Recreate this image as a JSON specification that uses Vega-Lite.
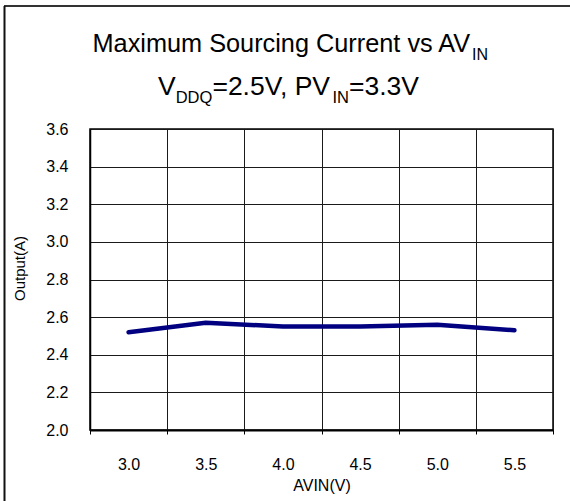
{
  "$schema": "https://vega.github.io/schema/vega-lite/v6.json",
  "width": 463,
  "height": 301,
  "padding": {"left": 90, "top": 129, "right": 17, "bottom": 71},
  "autosize": {"type": "none"},
  "background": "white",
  "config": {
    "font": "Liberation Sans",
    "view": {"stroke": "#000", "strokeWidth": 1.5},
    "axis": {
      "labelFont": "Liberation Sans",
      "titleFont": "Liberation Sans",
      "labelColor": "#000",
      "titleColor": "#000",
      "titleFontWeight": "normal",
      "gridColor": "#1a1a1a",
      "gridOpacity": 1,
      "gridWidth": 1
    }
  },
  "data": {
    "values": [
      {"avin": "3.0", "output": 2.52},
      {"avin": "3.5", "output": 2.57},
      {"avin": "4.0", "output": 2.55},
      {"avin": "4.5", "output": 2.55},
      {"avin": "5.0", "output": 2.56},
      {"avin": "5.5", "output": 2.53}
    ]
  },
  "layer": [
    {
      "mark": {"type": "line", "color": "#000080", "strokeWidth": 4.5, "strokeCap": "round", "strokeJoin": "round"},
      "encoding": {
        "x": {
          "field": "avin",
          "type": "ordinal",
          "bandPosition": 0.5,
          "scale": {"type": "band", "paddingInner": 0, "paddingOuter": 0},
          "axis": {
            "title": "AVIN(V)",
            "titleFontSize": 16,
            "titlePadding": 5,
            "labelFontSize": 16,
            "labelAngle": 0,
            "labelPadding": 22,
            "tickBand": "extent",
            "ticks": true,
            "tickSize": 4,
            "tickColor": "#000",
            "grid": true,
            "domainColor": "#000",
            "domainWidth": 2
          }
        },
        "y": {
          "field": "output",
          "type": "quantitative",
          "scale": {"domain": [2, 3.6], "nice": false, "zero": false},
          "axis": {
            "title": "Output(A)",
            "titleFontSize": 15,
            "titleAngle": -90,
            "titleBaseline": "middle",
            "titleAlign": "center",
            "titleX": -71,
            "titleY": 139,
            "values": [2.0, 2.2, 2.4, 2.6, 2.8, 3.0, 3.2, 3.4, 3.6],
            "format": ".1f",
            "labelFontSize": 16,
            "labelPadding": 22,
            "ticks": false,
            "grid": true,
            "domainColor": "#000",
            "domainWidth": 1.5
          }
        }
      }
    },
    {
      "data": {"values": [{}]},
      "mark": {"type": "rule", "color": "#333", "strokeWidth": 2},
      "encoding": {
        "x": {"value": -86},
        "x2": {"value": 480},
        "y": {"value": -123},
        "y2": {"value": -123}
      }
    },
    {
      "data": {"values": [{}]},
      "mark": {"type": "rule", "color": "#111", "strokeWidth": 2},
      "encoding": {
        "x": {"value": -85.5},
        "x2": {"value": -85.5},
        "y": {"value": -123},
        "y2": {"value": 372}
      }
    },
    {
      "data": {"values": [{}]},
      "mark": {"type": "text", "text": "Maximum Sourcing Current vs AV", "x": 2.5, "y": -77.5, "align": "left", "baseline": "alphabetic", "fontSize": 25.3, "color": "#000"},
      "encoding": {}
    },
    {
      "data": {"values": [{}]},
      "mark": {"type": "text", "text": "IN", "x": 382, "y": -69, "align": "left", "baseline": "alphabetic", "fontSize": 16, "color": "#000"},
      "encoding": {}
    },
    {
      "data": {"values": [{}]},
      "mark": {"type": "text", "text": "V", "x": 68, "y": -34, "align": "left", "baseline": "alphabetic", "fontSize": 26.5, "color": "#000"},
      "encoding": {}
    },
    {
      "data": {"values": [{}]},
      "mark": {"type": "text", "text": "DDQ", "x": 85.7, "y": -26, "align": "left", "baseline": "alphabetic", "fontSize": 16.5, "color": "#000"},
      "encoding": {}
    },
    {
      "data": {"values": [{}]},
      "mark": {"type": "text", "text": "=2.5V, PV", "x": 122.4, "y": -34, "align": "left", "baseline": "alphabetic", "fontSize": 26.5, "color": "#000"},
      "encoding": {}
    },
    {
      "data": {"values": [{}]},
      "mark": {"type": "text", "text": "IN", "x": 242.5, "y": -26, "align": "left", "baseline": "alphabetic", "fontSize": 16.5, "color": "#000"},
      "encoding": {}
    },
    {
      "data": {"values": [{}]},
      "mark": {"type": "text", "text": "=3.3V", "x": 259, "y": -34, "align": "left", "baseline": "alphabetic", "fontSize": 26.5, "color": "#000"},
      "encoding": {}
    }
  ]
}
